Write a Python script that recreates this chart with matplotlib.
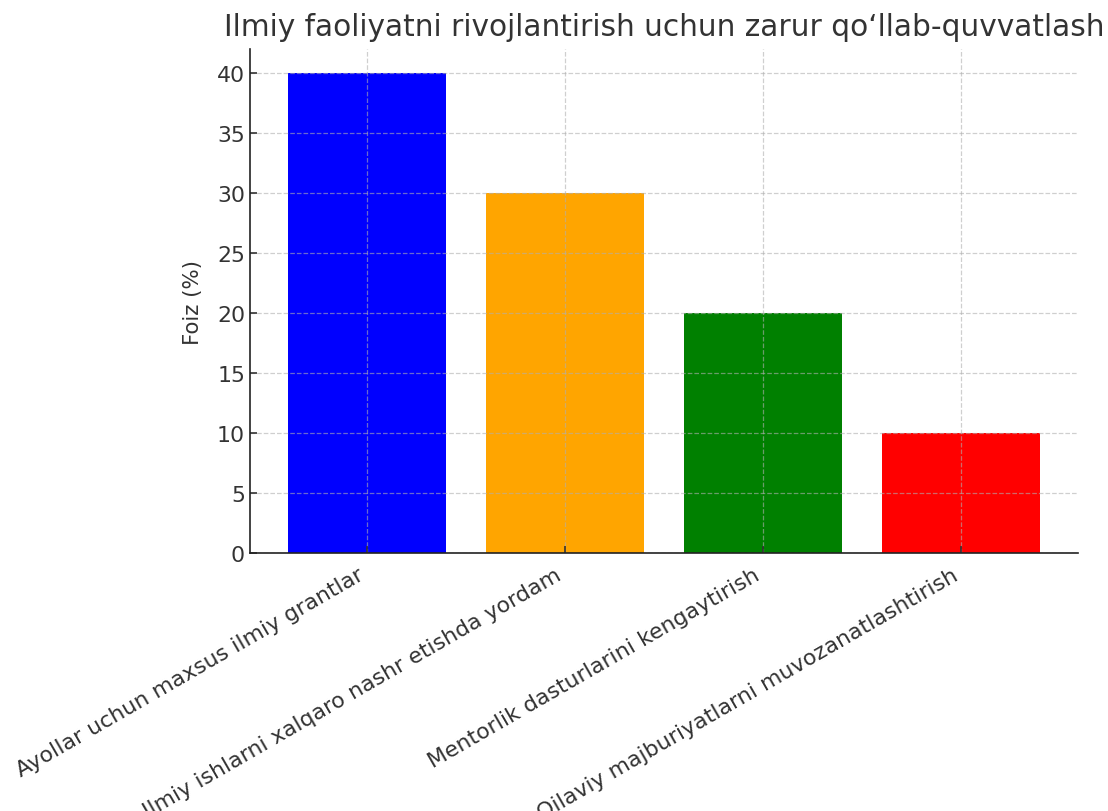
import matplotlib.pyplot as plt

plt.rcParams["font.family"] = "DejaVu Sans"
plt.rcParams["text.color"] = "#333333"
plt.rcParams["axes.labelcolor"] = "#333333"
plt.rcParams["xtick.color"] = "#333333"
plt.rcParams["ytick.color"] = "#333333"

categories = [
    "Ayollar uchun maxsus ilmiy grantlar",
    "Ilmiy ishlarni xalqaro nashr etishda yordam",
    "Mentorlik dasturlarini kengaytirish",
    "Oilaviy majburiyatlarni muvozanatlashtirish",
]
values = [40, 30, 20, 10]
colors = ["blue", "orange", "green", "red"]

fig = plt.figure(figsize=(11.08, 8.12), dpi=100)
ax = fig.add_axes([0.2256, 0.3177, 0.9730 - 0.2256, 0.9384 - 0.3177])

ax.bar(categories, values, color=colors, width=0.8)

ax.set_title("Ilmiy faoliyatni rivojlantirish uchun zarur qo\u2018llab-quvvatlash",
             fontsize=21.3, pad=10, color="#333333")
ax.set_ylabel("Foiz (%)", fontsize=15.3, labelpad=10)

ax.tick_params(axis="both", direction="in", labelsize=15.8, length=5, width=1.2)
ax.tick_params(axis="x", pad=8)
plt.setp(ax.get_xticklabels(), rotation=30, ha="right")

ax.grid(True, linestyle="--", color="#b0b0b0", alpha=0.6, linewidth=0.9)
ax.spines["top"].set_visible(False)
ax.spines["right"].set_visible(False)
ax.spines["left"].set_linewidth(1.2)
ax.spines["bottom"].set_linewidth(1.2)
ax.spines["left"].set_color("#222222")
ax.spines["bottom"].set_color("#222222")

fig.savefig("out.png", dpi=100)
